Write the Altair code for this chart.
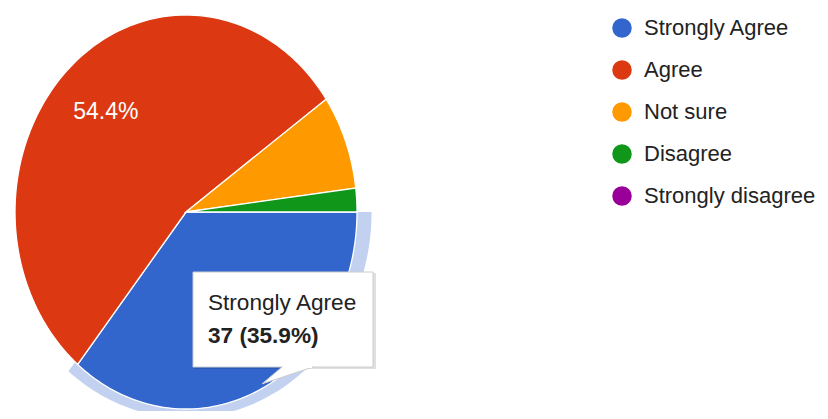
import altair as alt
import pandas as pd

# ---- data ----
categories = ["Strongly Agree", "Agree", "Not sure", "Disagree", "Strongly disagree"]
counts = [37, 56, 8, 2, 0]
colors = ["#3366cc", "#dc3912", "#ff9900", "#109618", "#990099"]
highlighted = "Strongly Agree"

df = pd.DataFrame({"category": categories, "count": counts,
                   "idx": list(range(len(categories)))})

FONT = "Liberation Sans"
N = 120  # arc resolution

# pie geometry in plot pixels (ellipse, as in the reference)
x_scale = alt.Scale(domain=[-1, 1], range=[7, 349])
y_scale = alt.Scale(domain=[-1, 1], range=[401, 7])

base = (
    alt.Chart(df)
    .transform_joinaggregate(total="sum(count)")
    .transform_window(cum="sum(count)", sort=[alt.SortField("idx", order="ascending")],
                      frame=[None, 0])
    .transform_calculate(
        a0="PI/2 + 2*PI*(datum.cum - datum.count)/datum.total",
        a1="PI/2 + 2*PI*datum.cum/datum.total",
        pct="datum.count/datum.total",
    )
)


def wedge(chart, fx, fy):
    return (
        chart.transform_calculate(k=f"sequence(0, {N + 2})")
        .transform_flatten(["k"])
        .transform_calculate(
            ang=f"datum.a0 + (datum.a1 - datum.a0) * min(datum.k, {N}) / {N}",
            px=f"datum.k > {N} ? 0 : {fx} * sin(datum.ang)",
            py=f"datum.k > {N} ? 0 : {fy} * cos(datum.ang)",
        )
    )


xy = dict(
    x=alt.X("px:Q", scale=x_scale, axis=None),
    y=alt.Y("py:Q", scale=y_scale, axis=None),
    order=alt.Order("k:Q"),
)

ring = wedge(base.transform_filter(f"datum.category == '{highlighted}'"), 1.085, 1.045).mark_line(
    filled=True, interpolate="linear-closed", color="#c2d1f0", strokeWidth=0
).encode(**xy)

pie = wedge(base.transform_filter("datum.count > 0"), 1, 1).mark_line(
    filled=True, interpolate="linear-closed", stroke="white", strokeWidth=1.3
).encode(
    **xy,
    color=alt.Color(
        "category:N",
        scale=alt.Scale(domain=categories, range=colors),
        legend=alt.Legend(
            orient="none", legendX=603, legendY=9, title=None, padding=0,
            symbolType="circle", symbolSize=380, symbolStrokeWidth=0,
            labelFontSize=22, labelFont=FONT, labelColor="#222222",
            rowPadding=20, labelOffset=11, labelLimit=300,
        ),
    ),
)

# in-slice percentage labels (the highlighted slice's label sits under the tooltip)
labels = (
    base.transform_filter(f"datum.pct >= 0.1 && datum.category != '{highlighted}'")
    .transform_calculate(
        lx="0.69*sin((datum.a0 + datum.a1)/2)",
        ly="0.69*cos((datum.a0 + datum.a1)/2)",
        txt="format(datum.pct, '.1%')",
    )
    .mark_text(color="white", fontSize=23, font=FONT)
    .encode(x=alt.X("lx:Q", scale=x_scale, axis=None),
            y=alt.Y("ly:Q", scale=y_scale, axis=None),
            text="txt:N")
)

tip = base.transform_filter(f"datum.category == '{highlighted}'").transform_calculate(
    line1="datum.category",
    line2="datum.count + ' (' + format(datum.pct, '.1%') + ')'",
)

shadow = tip.mark_rect(color="#000000", opacity=0.12).encode(
    x=alt.value(186), x2=alt.value(368), y=alt.value(265), y2=alt.value(361))
box = tip.mark_rect(color="white", stroke="#cccccc", strokeWidth=1).encode(
    x=alt.value(185), x2=alt.value(365), y=alt.value(264), y2=alt.value(359))
pointer = tip.mark_point(
    shape="M -0.23 0 L -1 0.65 L 0.96 0", filled=True, fill="white",
    stroke="#cccccc", strokeWidth=1, opacity=1, size=2704,
).encode(x=alt.value(280), y=alt.value(359))
cover = tip.mark_rule(color="white", strokeWidth=2).encode(
    x=alt.value(275), x2=alt.value(304), y=alt.value(359))
t1 = tip.mark_text(align="left", baseline="alphabetic", fontSize=22.6, font=FONT,
                   color="#222222").encode(x=alt.value(200), y=alt.value(302), text="line1:N")
t2 = tip.mark_text(align="left", baseline="alphabetic", fontSize=22.6, font=FONT,
                   fontWeight="bold", color="#222222").encode(
    x=alt.value(200), y=alt.value(335), text="line2:N")

chart = (
    alt.layer(ring, pie, labels, shadow, box, pointer, cover, t1, t2)
    .properties(width=812, height=403, padding=0, autosize="none")
    .configure_view(stroke=None)
)

chart.save("out.html", embed_options={"renderer": "svg", "actions": False})
